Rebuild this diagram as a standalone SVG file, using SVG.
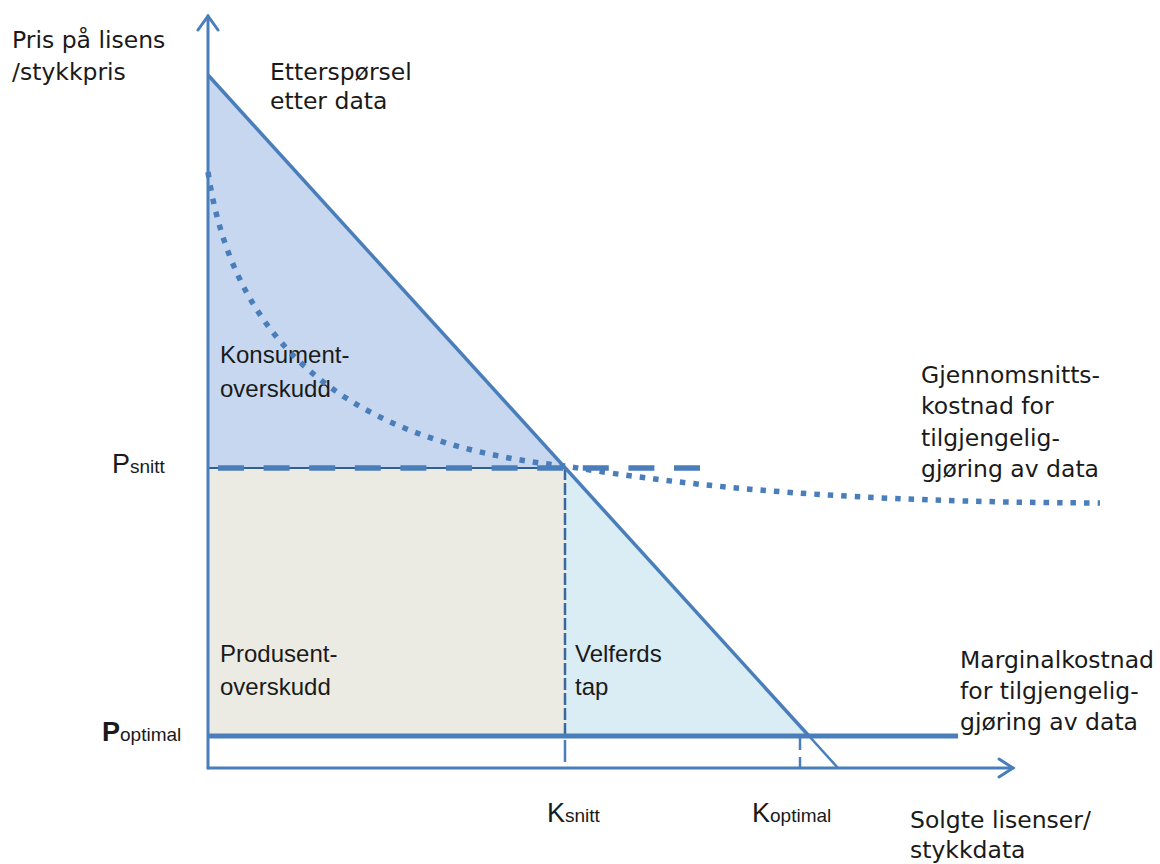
<svg xmlns="http://www.w3.org/2000/svg" width="1160" height="864" viewBox="0 0 1160 864">
  <style>
    .lbl { font-family: "DejaVu Sans", Verdana, sans-serif; font-size: 23.5px; fill: #1a1a1a; }
    .area { font-family: "Liberation Sans", Arial, sans-serif; font-size: 24px; fill: #1a1a1a; }
    .sym { font-family: "Liberation Sans", Arial, sans-serif; font-size: 27px; fill: #1a1a1a; }
    .sub { font-size: 19px; }
    .ax { stroke: #4a7ebb; stroke-width: 3; fill: none; stroke-linecap: round; }
    .curve { stroke: #4a7ebb; fill: none; }
  </style>

  <rect width="1160" height="864" fill="#ffffff"/>

  <!-- shaded surplus / loss areas -->
  <g id="consumer-surplus">
    <polygon points="208,75 565,468 208,468" fill="#c7d7ef"/>
    <text class="area" x="220" y="363">Konsument-</text>
    <text class="area" x="220" y="397">overskudd</text>
  </g>
  <g id="producer-surplus">
    <rect x="208" y="468" width="357" height="268" fill="#ecebe3"/>
    <text class="area" x="220" y="662">Produsent-</text>
    <text class="area" x="220" y="695">overskudd</text>
  </g>
  <g id="welfare-loss">
    <polygon points="565,468 808,736 565,736" fill="#daedf4"/>
    <text class="area" x="575" y="662">Velferds</text>
    <text class="area" x="575" y="695">tap</text>
  </g>

  <g id="connectors">
    <!-- boundary under the average-price line -->
    <line x1="208" y1="468" x2="565" y2="468" stroke="#2f5f96" stroke-width="2"/>
    <!-- average price (dashed) -->
    <line x1="218" y1="468" x2="704" y2="468" stroke="#4a7ebb" stroke-width="5.5" stroke-dasharray="26 19.6"/>
    <!-- quantity markers -->
    <line x1="565" y1="468" x2="565" y2="736" stroke="#3868a0" stroke-width="2.5" stroke-dasharray="12 3"/>
    <line x1="565" y1="740" x2="565" y2="762" stroke="#4a7ebb" stroke-width="2.5"/>
    <line x1="800" y1="738" x2="800" y2="750" stroke="#4a7ebb" stroke-width="2.5"/>
    <line x1="800" y1="757" x2="800" y2="768" stroke="#4a7ebb" stroke-width="2.5"/>
    <!-- marginal cost -->
    <line x1="208" y1="736" x2="958" y2="736" stroke="#4a7ebb" stroke-width="5"/>
    <!-- demand -->
    <line x1="208" y1="75" x2="809" y2="736" stroke="#4a7ebb" stroke-width="3.5"/>
    <line x1="809" y1="736" x2="838" y2="768" stroke="#4a7ebb" stroke-width="2.5"/>
    <!-- average cost (dotted) -->
    <path class="curve" d="M208,172 C230,320 320,440 565,466 C700,488 850,502 1100,503" stroke-width="5.5" stroke-dasharray="5.5 8"/>
    <!-- axes -->
    <line class="ax" x1="208" y1="768" x2="208" y2="16"/>
    <polyline class="ax" points="198,30 208,16 218,30"/>
    <line class="ax" x1="208" y1="768" x2="1013" y2="768"/>
    <polyline class="ax" points="999,759 1013,768 999,777"/>
  </g>

  <g id="axis-labels">
    <text class="lbl" x="12" y="48">Pris på lisens</text>
    <text class="lbl" x="12" y="80">/stykkpris</text>
    <text class="lbl" x="910" y="828">Solgte lisenser/</text>
    <text class="lbl" x="910" y="858">stykkdata</text>
  </g>

  <g id="curve-labels">
    <text class="lbl" x="270" y="80">Etterspørsel</text>
    <text class="lbl" x="270" y="109">etter data</text>
    <text class="lbl" x="921" y="383">Gjennomsnitts-</text>
    <text class="lbl" x="921" y="414">kostnad for</text>
    <text class="lbl" x="921" y="446">tilgjengelig-</text>
    <text class="lbl" x="921" y="477">gjøring av data</text>
    <text class="lbl" x="960" y="668">Marginalkostnad</text>
    <text class="lbl" x="960" y="699">for tilgjengelig-</text>
    <text class="lbl" x="960" y="730">gjøring av data</text>
  </g>

  <g id="value-labels">
    <text class="sym" x="112" y="473">P<tspan class="sub">snitt</tspan></text>
    <text class="sym" x="102" y="741" font-weight="bold">P<tspan class="sub" font-weight="normal">optimal</tspan></text>
    <text class="sym" x="547" y="822">K<tspan class="sub">snitt</tspan></text>
    <text class="sym" x="752" y="822">K<tspan class="sub">optimal</tspan></text>
  </g>
</svg>
